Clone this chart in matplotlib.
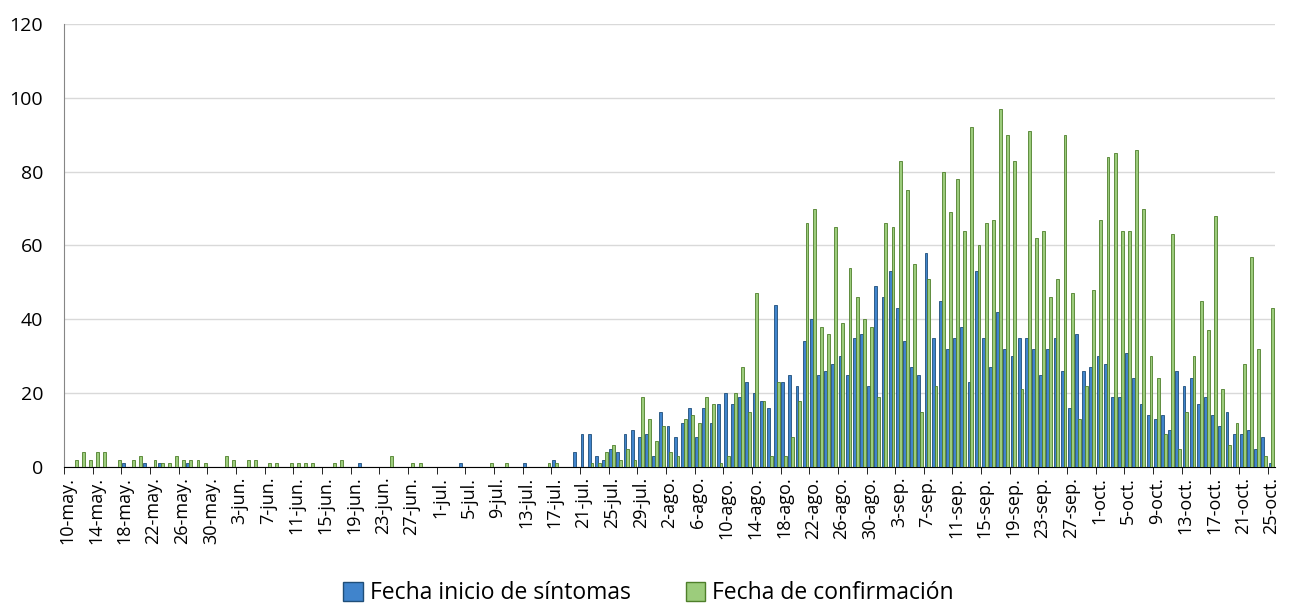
import numpy as np
import pandas as pd
import matplotlib
matplotlib.use("Agg")
import matplotlib.pyplot as plt
from matplotlib.patches import Patch

plt.rcParams['font.family'] = ['Open Sans', 'DejaVu Sans']

# daily counts, 10-may .. 25-oct
inicio_may = [0, 0, 0, 0, 0, 0, 0, 0, 1, 0, 0, 1, 0, 1, 0, 0, 0, 1, 0, 0, 0, 0]
inicio_jun = [0] * 19 + [1] + [0] * 10
inicio_jul = [0, 0, 0, 1, 0, 0, 0, 0, 0, 0, 0, 0, 1, 0, 0, 0, 2, 0, 0, 4, 9, 9, 3, 2, 5, 4, 9, 10, 8, 9, 3]
inicio_ago = [15, 11, 8, 12, 16, 8, 16, 12, 17, 20, 17, 19, 23, 20, 18, 16, 44, 23, 25, 22, 34, 40, 25, 26, 28,
              30, 25, 35, 36, 22, 49]
inicio_sep = [46, 53, 43, 34, 27, 25, 58, 35, 45, 32, 35, 38, 23, 53, 35, 27, 42, 32, 30, 35, 35, 32, 25, 32, 35,
              26, 16, 36, 26, 27]
inicio_oct = [30, 28, 19, 19, 31, 24, 17, 14, 13, 14, 10, 26, 22, 24, 17, 19, 14, 11, 15, 9, 9, 10, 5, 8, 1]

conf_may = [0, 2, 4, 2, 4, 4, 0, 2, 0, 2, 3, 0, 2, 1, 1, 3, 2, 2, 2, 1, 0, 0]
conf_jun = [3, 2, 0, 2, 2, 0, 1, 1, 0, 1, 1, 1, 1, 0, 0, 1, 2, 0, 0, 0, 0, 0, 0, 3, 0, 0, 1, 1, 0, 0]
conf_jul = [0, 0, 0, 0, 0, 0, 0, 1, 0, 1, 0, 0, 0, 0, 0, 1, 1, 0, 0, 0, 0, 1, 1, 4, 6, 2, 5, 2, 19, 13, 7]
conf_ago = [11, 4, 3, 13, 14, 12, 19, 17, 1, 3, 20, 27, 15, 47, 18, 3, 23, 3, 8, 18, 66, 70, 38, 36, 65,
            39, 54, 46, 40, 38, 19]
conf_sep = [66, 65, 83, 75, 55, 15, 51, 22, 80, 69, 78, 64, 92, 60, 66, 67, 97, 90, 83, 21, 91, 62, 64, 46, 51,
            90, 47, 13, 22, 48]
conf_oct = [67, 84, 85, 64, 64, 86, 70, 30, 24, 9, 63, 5, 15, 30, 45, 37, 68, 21, 6, 12, 28, 57, 32, 3, 43]

meses = {5: 'may', 6: 'jun', 7: 'jul', 8: 'ago', 9: 'sep', 10: 'oct'}
fechas = pd.date_range('2020-05-10', '2020-10-25', freq='D')
etiquetas = ['%d-%s.' % (d.day, meses[d.month]) for d in fechas]

inicio = np.array(inicio_may + inicio_jun + inicio_jul + inicio_ago + inicio_sep + inicio_oct)
conf = np.array(conf_may + conf_jun + conf_jul + conf_ago + conf_sep + conf_oct)

azul, azul_borde = '#4084cc', '#1f4e79'
verde, verde_borde = '#9ccc7c', '#4e7f2a'

fig = plt.figure(figsize=(12.97, 6.06), dpi=100)
ax = fig.add_axes([0.0493, 0.2294, 0.9337, 0.731])

x = np.arange(len(etiquetas))
w = 0.4
ax.bar(x - 0.2, inicio, w, color=azul, edgecolor=azul_borde, linewidth=0.6, zorder=3)
ax.bar(x + 0.2, conf, w, color=verde, edgecolor=verde_borde, linewidth=0.6, zorder=3)

ax.set_xlim(-0.5, len(x) - 0.5)
ax.set_ylim(0, 120)
ax.set_yticks(range(0, 121, 20))
ax.yaxis.grid(True, color='#d9d9d9', linewidth=1, zorder=0)
ax.tick_params(axis='y', length=0, labelsize=14, pad=15)

# labels centred on every 4th day, tick marks on category boundaries
ax.set_xticks(x[::4])
ax.set_xticklabels(etiquetas[::4], rotation=90, fontsize=13)
ax.set_xticks(np.arange(-0.5, len(x), 4), minor=True)
ax.tick_params(axis='x', which='major', length=0, pad=7)
ax.tick_params(axis='x', which='minor', length=5, direction='out', color='black')

for s in ['top', 'right']:
    ax.spines[s].set_visible(False)
ax.spines['left'].set_color('#868686')
ax.spines['bottom'].set_color('black')

handles = [Patch(facecolor=azul, edgecolor=azul_borde), Patch(facecolor=verde, edgecolor=verde_borde)]
fig.legend(handles, ['Fecha inicio de síntomas', 'Fecha de confirmación'], loc='lower center',
           bbox_to_anchor=(0.5, -0.033), ncol=2, frameon=False, fontsize=16.5,
           handlelength=0.85, handleheight=0.85, handletextpad=0.3, columnspacing=2.4)

fig.savefig('out.png', dpi=100)
